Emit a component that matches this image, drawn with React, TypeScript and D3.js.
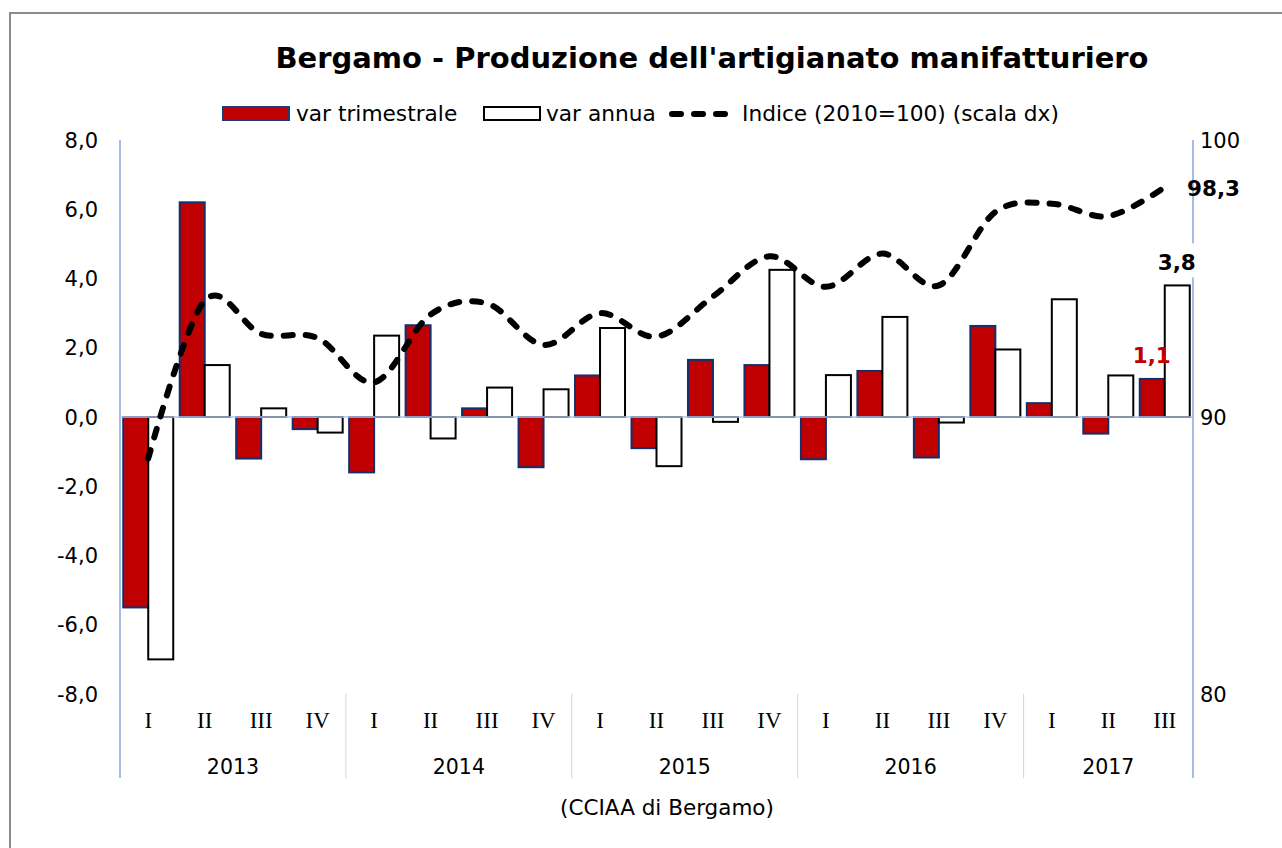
import React from "react";
import * as d3 from "d3";

const quarters = ["I","II","III","IV","I","II","III","IV","I","II","III","IV","I","II","III","IV","I","II","III"];
const years = ["2013","2014","2015","2016","2017"];
const yearCounts = [4,4,4,4,3];
const varTrimestrale = [-5.5, 6.2, -1.2, -0.35, -1.6, 2.65, 0.25, -1.45, 1.2, -0.9, 1.65, 1.5, -1.22, 1.33, -1.17, 2.63, 0.4, -0.48, 1.1];
const varAnnua = [-7.0, 1.5, 0.25, -0.45, 2.35, -0.62, 0.85, 0.8, 2.57, -1.42, -0.14, 4.25, 1.21, 2.89, -0.16, 1.95, 3.4, 1.2, 3.8];
const indice = [88.5, 94.2, 93.0, 92.85, 91.25, 93.7, 94.1, 92.6, 93.75, 92.9, 94.35, 95.8, 94.7, 95.9, 94.75, 97.4, 97.7, 97.25, 98.3];
const leftTicks = [-8, -6, -4, -2, 0, 2, 4, 6, 8];
const rightTicks = [80, 90, 100];

const FONT = "'DejaVu Sans', Verdana, sans-serif";
const SERIF = "'Liberation Serif', 'Times New Roman', serif";

export default function App() {
  const W = 1282, H = 848;
  const left = 120, right = 1193, top = 140, bottom = 694;
  const idx = quarters.map((_, i) => i);
  const x = d3.scaleBand<number>().domain(idx).range([left, right]).padding(0);
  const yL = d3.scaleLinear().domain([-8, 8]).range([bottom, top]);
  const yR = d3.scaleLinear().domain([80, 100]).range([bottom, top]);
  const bw = 25;
  const cx = (i: number) => (x(i) as number) + x.bandwidth() / 2;
  const line = d3.line<number>().x((_, i) => cx(i)).y((d) => yR(d)).curve(d3.curveCardinal.tension(0));
  const fmt = (v: number) => v.toFixed(1).replace(".", ",");

  const bounds: number[] = [];
  let acc = 0;
  bounds.push(acc);
  yearCounts.forEach((c) => { acc += c; bounds.push(acc); });
  const bx = (k: number) => (k >= quarters.length ? right : (x(k) as number));

  const axisColor = "#a6bde6";
  const last = quarters.length - 1;

  return (
    <svg width={W} height={H} style={{ position: "absolute", left: 0, top: 0, background: "#fff" }}>
      <rect x={0} y={0} width={W} height={H} fill="#fff" />
      <rect x={10} y={13} width={1300} height={900} fill="none" stroke="#8c8c8c" strokeWidth={2} />
      <text x={712} y={68} textAnchor="middle" fontFamily={FONT} fontWeight="bold" fontSize={29} fill="#000">
        Bergamo - Produzione dell'artigianato manifatturiero
      </text>

      {/* legend */}
      <rect x={223} y={107} width={66} height={13} fill="#C00000" stroke="#1f3a7a" strokeWidth={2} />
      <text x={296} y={121} fontFamily={FONT} fontSize={21.7} fill="#000">var trimestrale</text>
      <rect x={484} y={107} width={56} height={13} fill="#fff" stroke="#000" strokeWidth={2} />
      <text x={546} y={121} fontFamily={FONT} fontSize={21.7} fill="#000">var annua</text>
      <line x1={672} x2={733} y1={114} y2={114} stroke="#000" strokeWidth={6} strokeDasharray="9,13" strokeLinecap="round" />
      <text x={742} y={121} fontFamily={FONT} fontSize={21.7} fill="#000">Indice (2010=100) (scala dx)</text>

      {/* axes lines */}
      <line x1={left} x2={left} y1={top} y2={778} stroke={axisColor} strokeWidth={2} />
      <line x1={right} x2={right} y1={top} y2={778} stroke={axisColor} strokeWidth={2} />
      {bounds.slice(1, -1).map((k) => (
        <line key={k} x1={bx(k)} x2={bx(k)} y1={bottom} y2={778} stroke="#c9d6ee" strokeWidth={1} />
      ))}

      {/* left ticks */}
      {leftTicks.map((t) => (
        <text key={t} x={98} y={yL(t)} dy="0.36em" textAnchor="end" fontFamily={FONT} fontSize={21} fill="#000">
          {fmt(t)}
        </text>
      ))}
      {rightTicks.map((t) => (
        <text key={t} x={1200} y={yR(t)} dy="0.36em" textAnchor="start" fontFamily={FONT} fontSize={21} fill="#000">
          {t}
        </text>
      ))}

      {/* bars */}
      {varTrimestrale.map((v, i) => (
        <rect key={"t" + i} x={cx(i) - bw} y={Math.min(yL(v), yL(0))} width={bw} height={Math.abs(yL(v) - yL(0))}
          fill="#C00000" stroke="#142f6e" strokeWidth={2} />
      ))}
      {varAnnua.map((v, i) => (
        <rect key={"a" + i} x={cx(i)} y={Math.min(yL(v), yL(0))} width={bw} height={Math.abs(yL(v) - yL(0))}
          fill="#fff" stroke="#000" strokeWidth={2} />
      ))}
      <line x1={left} x2={right} y1={yL(0)} y2={yL(0)} stroke="#b4c4e4" strokeWidth={1.5} />

      {/* index line */}
      <path d={line(indice) || ""} fill="none" stroke="#000" strokeWidth={6} strokeDasharray="9,13" strokeLinecap="round" />

      {/* labels */}
      <text x={1187} y={yR(indice[last]) + 9} fontFamily={FONT} fontWeight="bold" fontSize={21.5} fill="#000">
        {fmt(indice[last])}
      </text>
      <rect x={cx(last) - 14} y={yL(varAnnua[last]) - 42} width={50} height={34} fill="#fff" />
      <text x={cx(last) + 12} y={yL(varAnnua[last]) - 15} textAnchor="middle" fontFamily={FONT} fontWeight="bold" fontSize={21.5} fill="#000">
        {fmt(varAnnua[last])}
      </text>
      <text x={cx(last) - 13} y={yL(varTrimestrale[last]) - 16} textAnchor="middle" fontFamily={FONT} fontWeight="bold" fontSize={21.5} fill="#C00000">
        {fmt(varTrimestrale[last])}
      </text>

      {/* x labels */}
      {quarters.map((q, i) => (
        <text key={"q" + i} x={cx(i)} y={728} textAnchor="middle" fontFamily={SERIF} fontSize={23} fill="#000">{q}</text>
      ))}
      {years.map((yv, k) => (
        <text key={yv} x={(bx(bounds[k]) + bx(bounds[k + 1])) / 2} y={774} textAnchor="middle" fontFamily={FONT} fontSize={20.5} fill="#000">{yv}</text>
      ))}
      <text x={667} y={815} textAnchor="middle" fontFamily={FONT} fontSize={21.5} fill="#000">(CCIAA di Bergamo)</text>
    </svg>
  );
}
